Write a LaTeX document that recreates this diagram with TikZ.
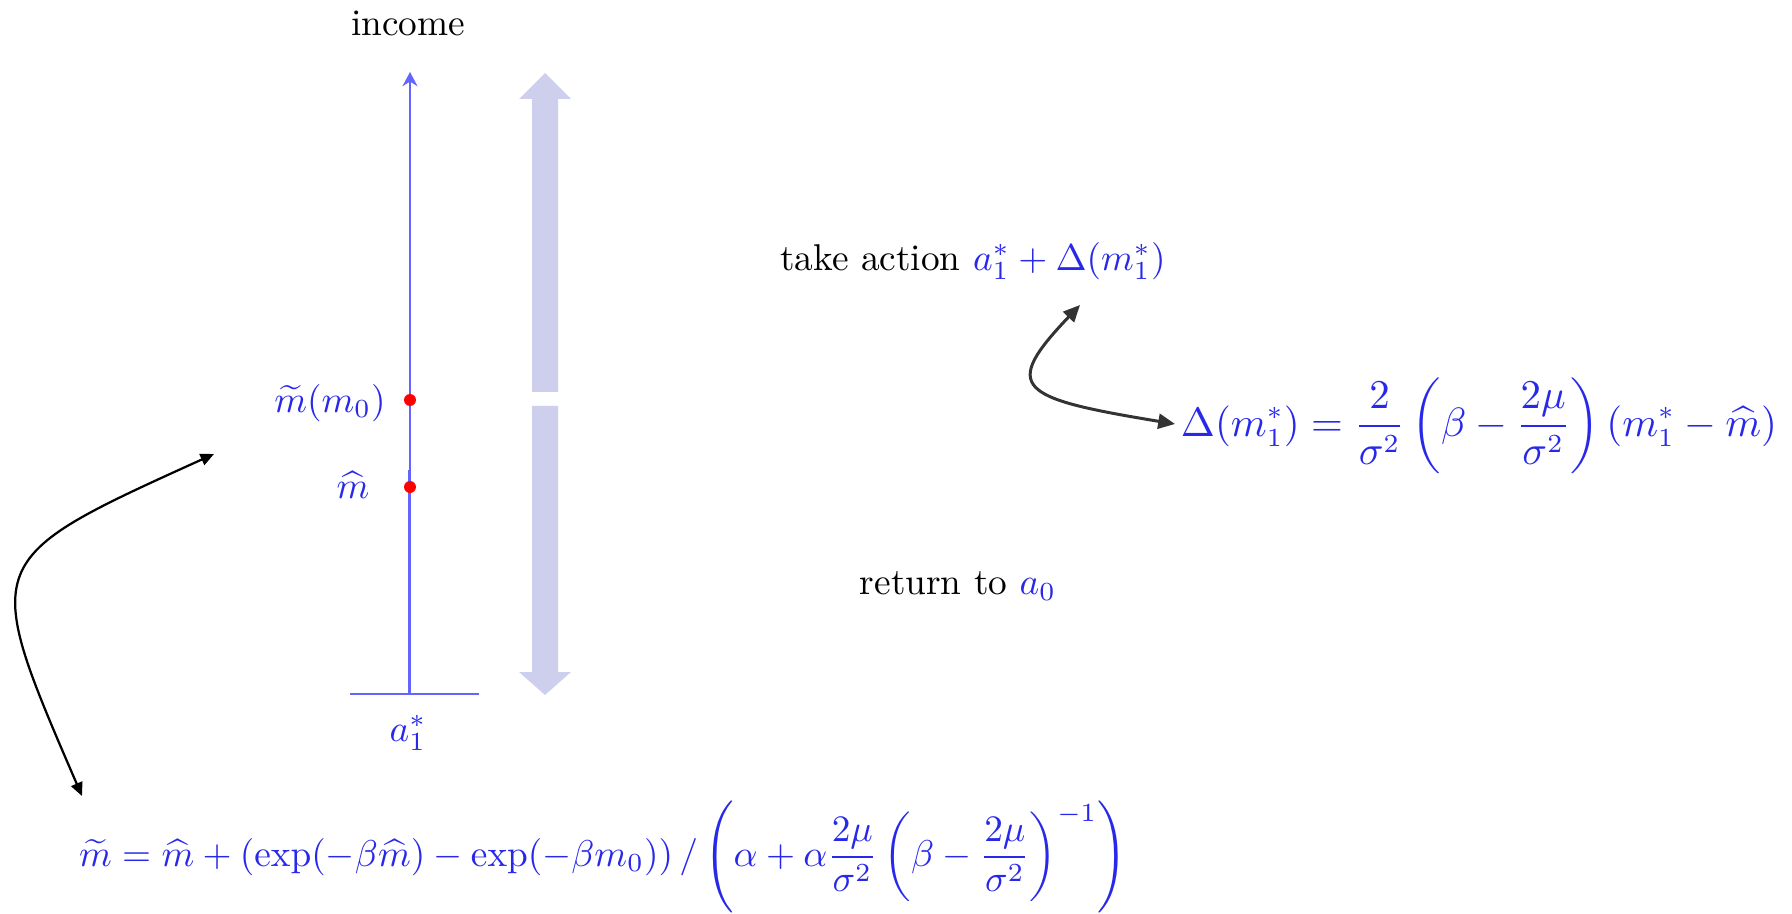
\documentclass[tikz,border=0pt]{standalone}
\usepackage{amsmath,amssymb}
\usepackage{xcolor}
\usepackage{tikz}
\usetikzlibrary{arrows.meta,positioning}
\definecolor{mathblue}{RGB}{40,40,235}
\definecolor{axisblue}{RGB}{100,100,255}
\definecolor{bandblue}{RGB}{206,207,237}
\newcommand{\mb}[1]{\textcolor{mathblue}{#1}}

\begin{document}
\begin{tikzpicture}[x=0.268pt,y=-0.268pt,
  every node/.style={inner sep=1pt},
  ax/.style={draw=axisblue,thick},
  dot/.style={circle,fill=red,inner sep=0pt,minimum size=3.2pt},
  band/.style={fill=bandblue},
  lbl/.style={text=mathblue},
  cv/.style={semithick,{Triangle[length=3.6pt,width=3.2pt]}-{Triangle[length=3.6pt,width=3.2pt]}},
  cvd/.style={thick,draw=black!80,{Triangle[length=4.5pt,width=4pt]}-{Triangle[length=4.5pt,width=4pt]}}
]
\clip (0,0) rectangle (1792,914);
% income axis
\node (inc) at (408,23) {income};
\coordinate (o) at (410,694);
\coordinate (top) at (410,72);
\draw[ax,-{Stealth[length=3.8pt,width=4pt]}] (o) -- (top);
\draw[ax] (409,470) -- (409,694);
\draw[ax] (350,694) -- (479,694);
\node[lbl] (a1) at (408,733) {$a_1^*$};
\node[dot] (mt) at (410,400) {};
\node[dot] (mh) at (410,487) {};
\node[lbl] (mtl) at (330,403) {$\widetilde{m}(m_0)$};
\node[lbl] (mhl) at (353,485) {$\widehat{m}$};
% up / down band
\foreach \ya/\yb/\yh in {392/73/99,406/695/672}
  \fill[band] (532,\ya) -- (532,\yh) -- (519,\yh) -- (545,\yb) -- (571,\yh) -- (558,\yh) -- (558,\ya) -- cycle;
% actions
\node (act) at (973,261) {take action \mb{$a_1^*+\Delta(m_1^*)$}};
\node (ret) at (958,586) {return to \mb{$a_0$}};
\node[lbl,font=\fontsize{10.7}{13}\selectfont] (dl) at (1479,426)
  {$\displaystyle \Delta(m_1^*)=\frac{2}{\sigma^2}\left(\beta-\frac{2\mu}{\sigma^2}\right)(m_1^*-\widehat{m})$};
\node[lbl] (mf) at (603,857)
  {$\displaystyle \widetilde{m}=\widehat{m}+(\exp(-\beta\widehat{m})-\exp(-\beta m_0))\,/\left(\alpha+\alpha\frac{2\mu}{\sigma^2}\left(\beta-\frac{2\mu}{\sigma^2}\right)^{-1}\right)$};
% curved pointers
\coordinate (p) at (1080,305);
\coordinate (q) at (1175,424);
\draw[cvd] (p) .. controls (1001,388) and (1017,398) .. (q);
\coordinate (r) at (82,796);
\coordinate (s) at (214,454);
\draw[cv] (r) .. controls (-20,560) .. (s);
\end{tikzpicture}
\end{document}
